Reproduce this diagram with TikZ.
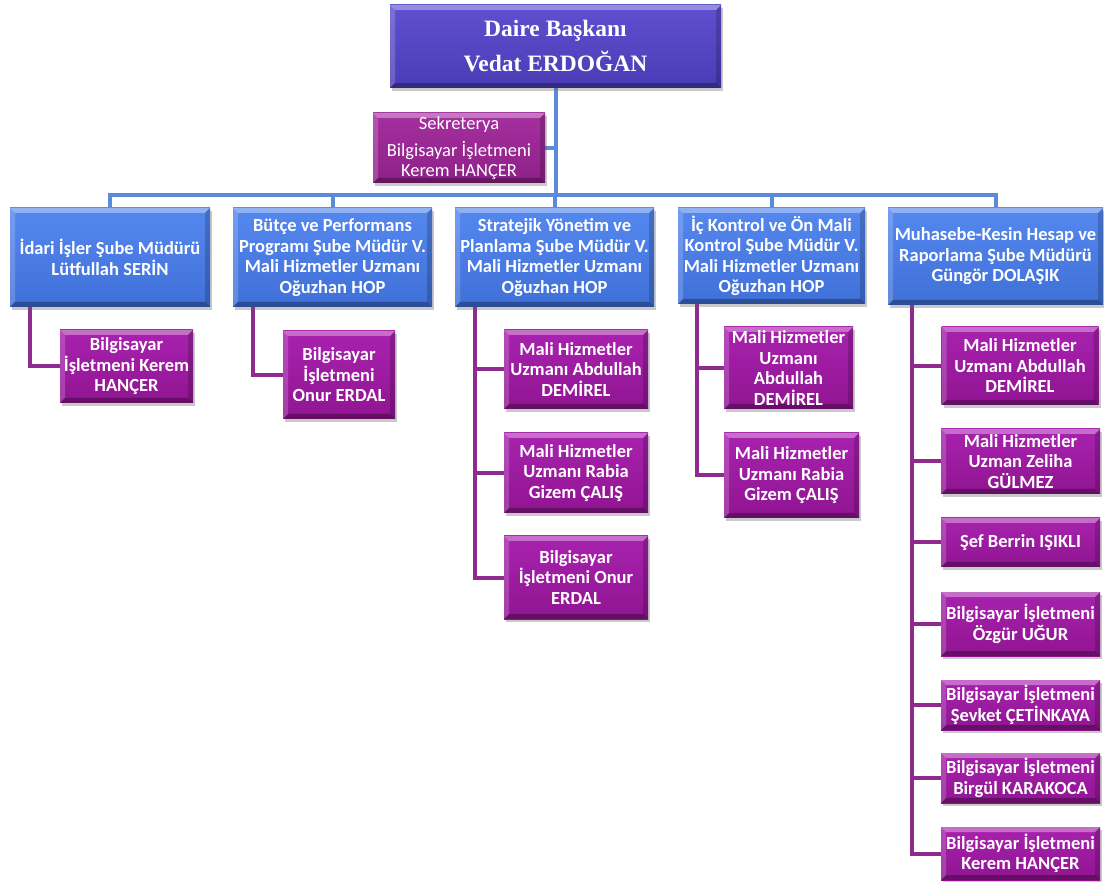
\documentclass[tikz,border=0pt]{standalone}
\usepackage{fontspec}
\setmainfont{Carlito}
\newfontfamily\serifhead{Liberation Serif}
\usetikzlibrary{shadows,backgrounds}
\definecolor{bluetop}{HTML}{5588EE}
\definecolor{bluebot}{HTML}{3F70D8}
\definecolor{purptop}{HTML}{A822AE}
\definecolor{purpbot}{HTML}{901592}
\definecolor{headtop}{HTML}{6050D0}
\definecolor{headbot}{HTML}{4A3BB5}
\definecolor{sektop}{HTML}{A5309F}
\definecolor{sekbot}{HTML}{8E2088}
\definecolor{bluelinec}{HTML}{5A8AD8}
\definecolor{purplinec}{HTML}{8E2A90}
\tikzset{
  bevel/.style={path picture={
    \fill[white,opacity=0.35] (path picture bounding box.north west) -- (path picture bounding box.north east) -- ([shift={(-5pt,-5pt)}]path picture bounding box.north east) -- ([shift={(5pt,-5pt)}]path picture bounding box.north west) -- cycle;
    \fill[white,opacity=0.18] (path picture bounding box.north west) -- ([shift={(5pt,-5pt)}]path picture bounding box.north west) -- ([shift={(5pt,5pt)}]path picture bounding box.south west) -- (path picture bounding box.south west) -- cycle;
    \fill[black,opacity=0.30] (path picture bounding box.south west) -- (path picture bounding box.south east) -- ([shift={(-5pt,5pt)}]path picture bounding box.south east) -- ([shift={(5pt,5pt)}]path picture bounding box.south west) -- cycle;
    \fill[black,opacity=0.18] (path picture bounding box.north east) -- ([shift={(-5pt,-5pt)}]path picture bounding box.north east) -- ([shift={(-5pt,5pt)}]path picture bounding box.south east) -- (path picture bounding box.south east) -- cycle;
  }},
  boxbase/.style={rectangle, inner sep=0pt, align=center, text=white, bevel,
    drop shadow={shadow xshift=2pt, shadow yshift=-3pt, opacity=0.35, fill=black!60}},
  headbox/.style={boxbase, top color=headtop, bottom color=headbot,
    font=\serifhead\bfseries\fontsize{23.5}{35}\selectfont},
  sekbox/.style={boxbase, top color=sektop, bottom color=sekbot,
    font=\fontsize{18.5}{20}\selectfont},
  bluebox/.style={boxbase, top color=bluetop, bottom color=bluebot,
    font=\bfseries\fontsize{18.5}{20.5}\selectfont},
  purpbox/.style={boxbase, top color=purptop, bottom color=purpbot,
    font=\bfseries\fontsize{18.5}{20.5}\selectfont},
  bline/.style={draw=bluelinec, line width=4pt},
  pline/.style={draw=purplinec, line width=4pt},
}
\begin{document}
\begin{tikzpicture}[x=1pt,y=-1pt]
\useasboundingbox (0,0) rectangle (1104,882);
\coordinate (busy) at (0,195);
\coordinate (t1) at (30,0);
\coordinate (t2) at (253,0);
\coordinate (t3) at (475,0);
\coordinate (t4) at (697,0);
\coordinate (t5) at (912,0);
\node[headbox, minimum width=331pt, minimum height=83pt] (top) at (555.5,46.5) {Daire Başkanı\\Vedat ERDOĞAN};
\node[sekbox, minimum width=172pt, minimum height=70pt] (sek) at (459,148) {Sekreterya\\[7pt]Bilgisayar İşletmeni\\Kerem HANÇER};
\node[bluebox, minimum width=200pt, minimum height=99pt] (b1) at (110,257.5) {İdari İşler Şube Müdürü\\Lütfullah SERİN};
\node[bluebox, minimum width=199pt, minimum height=99pt] (b2) at (332.5,257.5) {Bütçe ve Performans\\Programı Şube Müdür V.\\Mali Hizmetler Uzmanı\\Oğuzhan HOP};
\node[bluebox, minimum width=199pt, minimum height=99pt] (b3) at (554.5,257.5) {Stratejik Yönetim ve\\Planlama Şube Müdür V.\\Mali Hizmetler Uzmanı\\Oğuzhan HOP};
\node[bluebox, minimum width=187pt, minimum height=96pt] (b4) at (771.5,256) {İç Kontrol ve Ön Mali\\Kontrol Şube Müdür V.\\Mali Hizmetler Uzmanı\\Oğuzhan HOP};
\node[bluebox, minimum width=215pt, minimum height=97pt] (b5) at (995.5,256.5) {Muhasebe-Kesin Hesap ve\\Raporlama Şube Müdürü\\Güngör DOLAŞIK};
\node[purpbox, minimum width=133pt, minimum height=73pt] (c1) at (126.5,366.5) {Bilgisayar\\İşletmeni Kerem\\HANÇER};
\node[purpbox, minimum width=112pt, minimum height=88pt] (c2) at (339,375) {Bilgisayar\\İşletmeni\\Onur ERDAL};
\node[purpbox, minimum width=144pt, minimum height=79pt] (c3a) at (576,369.5) {Mali Hizmetler\\Uzmanı Abdullah\\DEMİREL};
\node[purpbox, minimum width=144pt, minimum height=80pt] (c3b) at (576,473) {Mali Hizmetler\\Uzmanı Rabia\\Gizem ÇALIŞ};
\node[purpbox, minimum width=144pt, minimum height=83pt] (c3c) at (576,577.5) {Bilgisayar\\İşletmeni Onur\\ERDAL};
\node[purpbox, minimum width=129pt, minimum height=82pt] (c4a) at (788.5,368) {Mali Hizmetler\\Uzmanı\\Abdullah\\DEMİREL};
\node[purpbox, minimum width=135pt, minimum height=85pt] (c4b) at (791.5,475.5) {Mali Hizmetler\\Uzmanı Rabia\\Gizem ÇALIŞ};
\node[purpbox, minimum width=157pt, minimum height=78pt] (c5a) at (1020,366) {Mali Hizmetler\\Uzmanı Abdullah\\DEMİREL};
\node[purpbox, minimum width=159pt, minimum height=65pt] (c5b) at (1020.5,461.5) {Mali Hizmetler\\Uzman Zeliha\\GÜLMEZ};
\node[purpbox, minimum width=159pt, minimum height=49pt] (c5c) at (1020.5,542.5) {Şef Berrin IŞIKLI};
\node[purpbox, minimum width=159pt, minimum height=64pt] (c5d) at (1020.5,624) {Bilgisayar İşletmeni\\Özgür UĞUR};
\node[purpbox, minimum width=159pt, minimum height=50pt] (c5e) at (1020.5,705) {Bilgisayar İşletmeni\\Şevket ÇETİNKAYA};
\node[purpbox, minimum width=159pt, minimum height=50pt] (c5f) at (1020.5,778) {Bilgisayar İşletmeni\\Birgül KARAKOCA};
\node[purpbox, minimum width=159pt, minimum height=53pt] (c5g) at (1020.5,853.5) {Bilgisayar İşletmeni\\Kerem HANÇER};
\begin{scope}[on background layer]
\fill[white] (0,0) rectangle (1104,882);
\draw[bline] (top.south) -- (top.south |- busy);
\draw[bline] (sek.east) -- (sek.east -| top.south);
\draw[bline] (b1.north) -- (b1.north |- busy) -- (b5.north |- busy) -- (b5.north);
\draw[bline] (b2.north) -- (b2.north |- busy);
\draw[bline] (b3.north) -- (b3.north |- busy);
\draw[bline] (b4.north) -- (b4.north |- busy);
\draw[pline] (b1.south -| t1) |- (c1.west);
\draw[pline] (b2.south -| t2) |- (c2.west);
\draw[pline] (b3.south -| t3) |- (c3c.west);
\draw[pline] (t3 |- c3a.west) -- (c3a.west);
\draw[pline] (t3 |- c3b.west) -- (c3b.west);
\draw[pline] (b4.south -| t4) |- (c4b.west);
\draw[pline] (t4 |- c4a.west) -- (c4a.west);
\draw[pline] (b5.south -| t5) |- (c5g.west);
\draw[pline] (t5 |- c5a.west) -- (c5a.west);
\draw[pline] (t5 |- c5b.west) -- (c5b.west);
\draw[pline] (t5 |- c5c.west) -- (c5c.west);
\draw[pline] (t5 |- c5d.west) -- (c5d.west);
\draw[pline] (t5 |- c5e.west) -- (c5e.west);
\draw[pline] (t5 |- c5f.west) -- (c5f.west);
\end{scope}
\end{tikzpicture}
\end{document}
